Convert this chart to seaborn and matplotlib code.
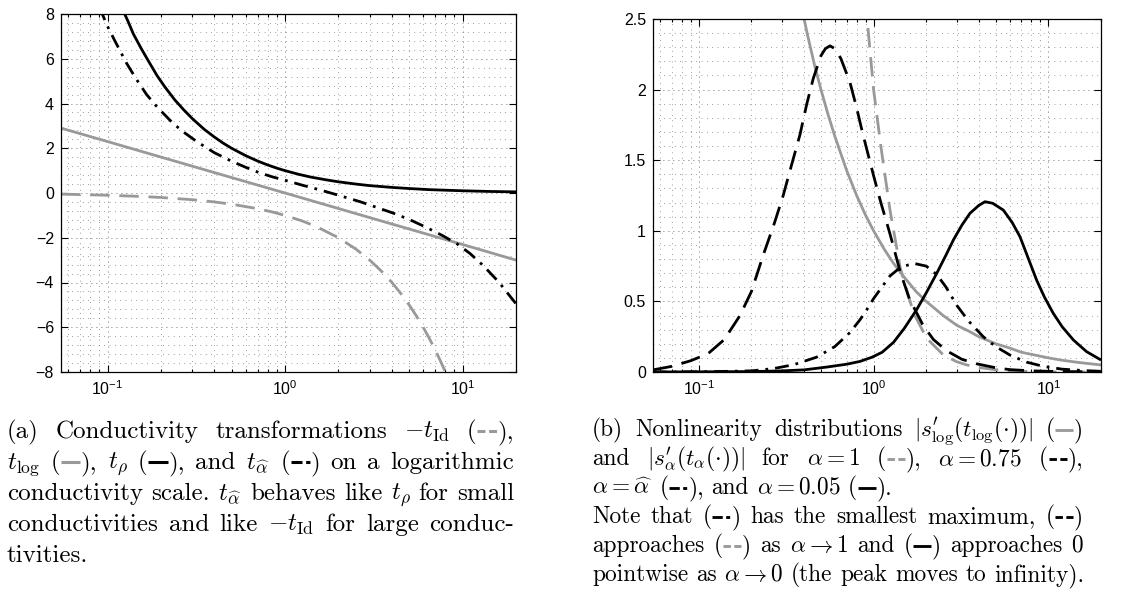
import matplotlib
matplotlib.use("Agg")
import matplotlib.pyplot as plt
from matplotlib.lines import Line2D
from matplotlib.offsetbox import AnchoredOffsetbox, DrawingArea, HPacker, TextArea
from matplotlib.ticker import LogLocator, MultipleLocator, NullFormatter
import seaborn as sns

# ---------------- panel (a): conductivity transformations ----------------
SIGMA_TLOG = [0.0547, 0.1, 0.3, 1.0, 3.0, 10.0, 20.0]
T_LOG = [2.9, 2.3, 1.2, 0.0, -1.1, -2.3, -3.0]

SIGMA_TID = [0.0547, 0.1, 0.15, 0.2, 0.3, 0.4, 0.5, 0.7, 0.85, 1.0, 1.25, 1.5, 2.0, 2.5,
             3.0, 3.5, 4.0, 4.5, 5.0, 5.5, 6.0, 6.5, 7.0, 7.5, 8.0, 8.5]
NEG_T_ID = [-0.05, -0.1, -0.15, -0.2, -0.3, -0.4, -0.5, -0.7, -0.85, -1.0, -1.25, -1.5, -2.0, -2.5,
            -3.0, -3.5, -4.0, -4.5, -5.0, -5.5, -6.0, -6.5, -7.0, -7.5, -8.0, -8.5]

SIGMA_TRHO = [0.12, 0.13, 0.14, 0.155, 0.17, 0.19, 0.21, 0.24, 0.27, 0.3, 0.35, 0.4, 0.45, 0.5,
              0.6, 0.7, 0.8, 0.9, 1.0, 1.2, 1.4, 1.7, 2.0, 2.5, 3.0, 4.0, 5.0, 6.5, 8.0, 10.0, 14.0, 20.0]
T_RHO = [8.3, 7.7, 7.1, 6.45, 5.9, 5.25, 4.75, 4.15, 3.7, 3.33, 2.85, 2.5, 2.22, 2.0,
         1.67, 1.43, 1.25, 1.11, 1.0, 0.83, 0.71, 0.59, 0.5, 0.4, 0.33, 0.25, 0.2, 0.15, 0.125, 0.1, 0.07, 0.05]

SIGMA_THAT = [0.09, 0.1, 0.11, 0.128, 0.145, 0.166, 0.19, 0.225, 0.26, 0.318, 0.4, 0.5, 0.6, 0.72,
              0.85, 1.0, 1.25, 1.57, 2.0, 2.65, 3.3, 4.07, 5.0, 6.3, 7.7, 9.3, 11.0, 13.1, 16.0, 20.0]
T_HAT = [8.3, 7.45, 6.8, 5.8, 5.1, 4.4, 3.85, 3.25, 2.8, 2.3, 1.8, 1.42, 1.15, 0.9,
         0.72, 0.57, 0.35, 0.14, -0.1, -0.39, -0.65, -0.9, -1.18, -1.55, -1.9, -2.27, -2.7, -3.25, -3.98, -4.95]

# ---------------- panel (b): nonlinearity distributions ----------------
SIGMA_SLOG = [0.38, 0.42, 0.46, 0.5, 0.55, 0.6, 0.7, 0.8, 0.9, 1.0, 1.15, 1.3, 1.5, 1.75, 2.0,
              2.5, 3.0, 3.5, 4.0, 5.0, 6.0, 7.0, 8.0, 10.0, 12.0, 15.0, 20.0]
S_LOG = [2.63, 2.38, 2.17, 2.0, 1.82, 1.67, 1.43, 1.25, 1.11, 1.0, 0.87, 0.77, 0.67, 0.57, 0.5,
         0.4, 0.33, 0.29, 0.25, 0.2, 0.17, 0.14, 0.125, 0.1, 0.083, 0.067, 0.05]

SIGMA_A1 = [0.88, 0.9, 0.95, 1.0, 1.1, 1.24, 1.42, 1.69, 2.01, 2.51, 3.0, 3.41, 4.0, 5.0, 6.5, 10.0, 20.0]
S_A1 = [2.75, 2.62, 2.3, 2.0, 1.6, 1.15, 0.74, 0.42, 0.24, 0.12, 0.072, 0.05, 0.032, 0.016, 0.006, 0.001, 0.0]

SIGMA_A075 = [0.0547, 0.07, 0.09, 0.113, 0.14, 0.172, 0.2, 0.234, 0.27, 0.304, 0.34, 0.379, 0.415,
              0.452, 0.5, 0.53, 0.563, 0.6, 0.65, 0.733, 0.8, 0.87, 0.913, 1.0, 1.1, 1.24, 1.42, 1.6,
              1.92, 2.2, 2.62, 3.2, 3.89, 5.0, 6.0, 8.0, 12.0, 20.0]
S_A075 = [0.015, 0.04, 0.08, 0.13, 0.23, 0.40, 0.57, 0.83, 1.05, 1.25, 1.47, 1.68, 1.9,
          2.08, 2.24, 2.29, 2.31, 2.29, 2.22, 2.05, 1.87, 1.68, 1.58, 1.39, 1.2, 0.98, 0.71, 0.52,
          0.33, 0.23, 0.15, 0.09, 0.058, 0.03, 0.017, 0.008, 0.003, 0.001]

SIGMA_AHAT = [0.0547, 0.1, 0.2, 0.267, 0.35, 0.472, 0.6, 0.733, 0.836, 0.913, 1.0, 1.24, 1.42, 1.69,
              2.0, 2.3, 2.6, 3.0, 3.5, 4.24, 5.0, 6.03, 7.5, 9.35, 12.0, 16.0, 20.0]
S_AHAT = [0.0, 0.001, 0.008, 0.024, 0.052, 0.105, 0.18, 0.28, 0.37, 0.44, 0.52, 0.68, 0.74, 0.77,
          0.75, 0.69, 0.6, 0.47, 0.36, 0.25, 0.18, 0.12, 0.07, 0.04, 0.02, 0.01, 0.005]

SIGMA_A005 = [0.0547, 0.2, 0.3, 0.4, 0.54, 0.7, 0.836, 0.98, 1.12, 1.3, 1.5, 1.76, 2.0, 2.3, 2.6,
              2.86, 3.2, 3.56, 4.0, 4.34, 4.8, 5.52, 6.2, 6.88, 7.7, 8.57, 9.5, 10.67, 12.0, 13.9, 16.5, 20.0]
S_A005 = [0.0, 0.003, 0.008, 0.015, 0.035, 0.055, 0.075, 0.105, 0.14, 0.21, 0.31, 0.44, 0.56, 0.70, 0.83,
          0.935, 1.04, 1.124, 1.18, 1.206, 1.195, 1.147, 1.06, 0.958, 0.8, 0.65, 0.53, 0.415, 0.32, 0.227, 0.145, 0.085]

XLIM = (0.0547, 20.0)
YTICKS_A = [-8, -6, -4, -2, 0, 2, 4, 6, 8]
YTICKLABELS_A = ["\u22128", "\u22126", "\u22124", "\u22122", "0", "2", "4", "6", "8"]
YTICKS_B = [0, 0.5, 1, 1.5, 2, 2.5]
YTICKLABELS_B = ["0", "0.5", "1", "1.5", "2", "2.5"]

# ---------------- captions ----------------
GD, GS, BS, BD, BDD = ("s", "gd"), ("s", "gs"), ("s", "bs"), ("s", "bd"), ("s", "bdd")
CAPTION_A = [
    (["(a)", "Conductivity", "transformations", r"$-t_{\mathrm{Id}}$", ["(", GD, "),"]], True),
    ([r"$t_{\mathrm{log}}$", ["(", GS, "),"], r"$t_{\rho}$", ["(", BS, "),"], "and", r"$t_{\widehat{\alpha}}$",
      ["(", BDD, ")"], "on", "a", "logarithmic"], True),
    (["conductivity", "scale.", r"$t_{\widehat{\alpha}}$", "behaves", "like", r"$t_{\rho}$", "for", "small"], True),
    (["conductivities", "and", "like", r"$-t_{\mathrm{Id}}$", "for", "large", "conduc-"], True),
    (["tivities."], False),
]
CAPTION_B = [
    (["(b)", "Nonlinearity", "distributions", r"$|s^{\prime}_{\mathrm{log}}(t_{\mathrm{log}}(\cdot))|$",
      ["(", GS, ")"]], True),
    (["and", r"$|s^{\prime}_{\alpha}(t_{\alpha}(\cdot))|$", "for", r"$\alpha=1$", ["(", GD, "),"],
      r"$\alpha=0.75$", ["(", BD, "),"]], True),
    ([r"$\alpha=\widehat{\alpha}$", ["(", BDD, "),"], "and", r"$\alpha=0.05$", ["(", BS, ")."]], False),
    (["Note", "that", ["(", BDD, ")"], "has", "the", "smallest", "maximum,", ["(", BD, ")"]], True),
    (["approaches", ["(", GD, ")"], "as", r"$\alpha\rightarrow1$", "and", ["(", BS, ")"], "approaches", "0"], True),
    (["pointwise", "as", r"$\alpha\rightarrow0$", "(the", "peak", "moves", "to", "infinity)."], False),
]

GRAY = "#999999"
FIG_W, FIG_H = 1138, 607
SAMPLE_STYLE = {
    "gd": (GRAY, (2.6, 1.2)),
    "gs": (GRAY, None),
    "bs": ("black", None),
    "bd": ("black", (2.6, 1.2)),
    "bdd": ("black", (3.6, 1.2, 1.4, 1.2)),
}


def sample(key, size):
    color, dashes = SAMPLE_STYLE[key]
    k = size / 18.0
    da = DrawingArea(15 * k, 10 * k, 0, 0)
    ln = Line2D([0.5 * k, 14.5 * k], [4.9 * k, 4.9 * k], lw=2.2 * k, color=color,
                solid_capstyle="butt", dash_capstyle="butt")
    if dashes:
        ln.set_dashes(dashes)
    da.add_artist(ln)
    return da


def caption_line(words, width_px, justify, size):
    props = dict(fontsize=size, fontfamily="cmr10", math_fontfamily="cm", color="black")
    desc = size * 0.5
    kids = []
    for w in words:
        parts = w if isinstance(w, list) else [w]
        group = [] if kids else [DrawingArea(0, desc + size * 0.8, 0, desc)]
        for p in parts:
            if isinstance(p, tuple):
                group.append(sample(p[1], size))
            else:
                group.append(TextArea(p, textprops=props))
        kids.append(HPacker(children=group, sep=0, pad=0, align="baseline"))
    if justify:
        return HPacker(children=kids, width=width_px, pad=0, align="baseline", mode="expand")
    return HPacker(children=kids, sep=size / 3.0, pad=0, align="baseline")


def place_caption(fig, lines, x_px, width_px, base0_px, step_px, size):
    desc_px = size * 0.5 * fig.dpi / 72.0
    for i, (words, justify) in enumerate(lines):
        box = caption_line(words, width_px, justify, size)
        y = (FIG_H - (base0_px + i * step_px) - desc_px) / FIG_H
        ab = AnchoredOffsetbox(loc="lower left", child=box, pad=0, borderpad=0, frameon=False,
                               bbox_to_anchor=(x_px / FIG_W, y), bbox_transform=fig.transFigure)
        fig.add_artist(ab)


def style_axes(ax, yticks, yticklabels, ylim, yminor):
    ax.set_xscale("log")
    ax.set_xlim(*XLIM)
    ax.set_ylim(*ylim)
    ax.xaxis.set_major_locator(LogLocator(base=10))
    ax.xaxis.set_minor_locator(LogLocator(base=10, subs=range(2, 10)))
    ax.xaxis.set_minor_formatter(NullFormatter())
    ax.set_yticks(yticks, yticklabels)
    ax.yaxis.set_minor_locator(MultipleLocator(yminor))
    ax.set_axisbelow(True)
    ax.grid(True, which="major", color="#444444", lw=0.6, ls=(0, (1, 5)))
    ax.grid(True, which="minor", color="#666666", lw=0.55, ls=(0, (1, 6)))
    ax.tick_params(which="both", direction="in", top=True, right=True, colors="black",
                   labelsize=11.5, width=0.8)
    ax.tick_params(which="major", length=5, pad=5)
    ax.tick_params(axis="x", which="minor", length=2.5)
    ax.tick_params(axis="y", which="minor", length=0)
    ax.set_xlabel("")
    ax.set_ylabel("")
    for sp in ax.spines.values():
        sp.set_color("black")
        sp.set_linewidth(0.9)


def main():
    sns.set_style("ticks")
    plt.rcParams["font.family"] = ["Liberation Sans", "DejaVu Sans"]
    plt.rcParams["axes.unicode_minus"] = True

    fig = plt.figure(figsize=(FIG_W / 100, FIG_H / 100), dpi=100)
    ax_a = fig.add_axes([61 / FIG_W, 1 - 372 / FIG_H, 455 / FIG_W, 358 / FIG_H])
    ax_b = fig.add_axes([653 / FIG_W, 1 - 372 / FIG_H, 448 / FIG_W, 353 / FIG_H])

    lw = 2.0
    dash = (0, (7, 3.5))
    dashdot = (0, (5, 2.5, 1, 2.5))
    common = dict(estimator=None, errorbar=None, sort=True, lw=lw,
                  solid_capstyle="butt", dash_capstyle="butt")

    # panel (a)
    sns.lineplot(x=SIGMA_TID, y=NEG_T_ID, ax=ax_a, color=GRAY, linestyle=dash, **common)
    sns.lineplot(x=SIGMA_TLOG, y=T_LOG, ax=ax_a, color=GRAY, **common)
    sns.lineplot(x=SIGMA_TRHO, y=T_RHO, ax=ax_a, color="black", **common)
    sns.lineplot(x=SIGMA_THAT, y=T_HAT, ax=ax_a, color="black", linestyle=dashdot, **common)
    style_axes(ax_a, YTICKS_A, YTICKLABELS_A, (-8, 8), 0.4)

    # panel (b)
    sns.lineplot(x=SIGMA_SLOG, y=S_LOG, ax=ax_b, color=GRAY, **common)
    sns.lineplot(x=SIGMA_A1, y=S_A1, ax=ax_b, color=GRAY, linestyle=dash, **common)
    sns.lineplot(x=SIGMA_A075, y=S_A075, ax=ax_b, color="black", linestyle=dash, **common)
    sns.lineplot(x=SIGMA_AHAT, y=S_AHAT, ax=ax_b, color="black", linestyle=dashdot, **common)
    sns.lineplot(x=SIGMA_A005, y=S_A005, ax=ax_b, color="black", **common)
    style_axes(ax_b, YTICKS_B, YTICKLABELS_B, (0, 2.5), 0.1)

    place_caption(fig, CAPTION_A, 7, 507, 438, 31, 18)
    place_caption(fig, CAPTION_B, 592, 491, 436, 29, 16.8)

    fig.savefig("out.png", dpi=100)
    plt.close(fig)


if __name__ == "__main__":
    main()
